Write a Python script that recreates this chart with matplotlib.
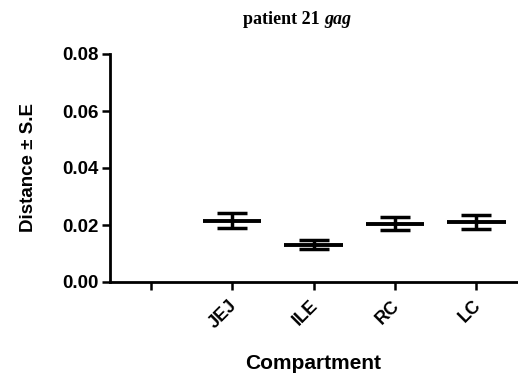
import matplotlib.pyplot as plt
import matplotlib.transforms as mtransforms
import numpy as np

plt.rcParams['font.family'] = ['Liberation Sans', 'DejaVu Sans']

# Data
compartments = ['', 'JEJ', 'ILE', 'RC', 'LC']
means = [np.nan, 0.0215, 0.0131, 0.0205, 0.0210]
se = [np.nan, 0.0027, 0.0016, 0.0022, 0.0025]
y_ticks = [0.00, 0.02, 0.04, 0.06, 0.08]

fig = plt.figure(figsize=(5.18, 3.79), dpi=100)
ax = fig.add_axes([110 / 518, 1 - 282 / 379, 407 / 518, 228 / 379])

x = np.arange(len(compartments))
ax.hlines(means, x - 0.36, x + 0.36, colors='black', linewidth=2.8)
ax.errorbar(x, means, yerr=se, fmt='none', ecolor='black', elinewidth=2.5,
            capsize=10.8, capthick=2.5)

ax.set_xlim(-0.5, 4.5)
ax.set_ylim(0, 0.08)
ax.set_yticks(y_ticks)
ax.set_yticklabels([f'{v:.2f}' for v in y_ticks], fontsize=13.5, fontweight='bold')
ax.set_xticks(x)
ax.set_xticklabels(compartments, fontsize=13, fontweight='bold',
                   rotation=45, ha='right', rotation_mode='anchor')
ax.tick_params(axis='both', direction='out', length=6, width=1.8, pad=2)
ax.tick_params(axis='x', pad=5)

# nudge rotated labels a bit to the left
shift = mtransforms.ScaledTranslation(-4 / 100, 0, fig.dpi_scale_trans)
for lbl in ax.get_xticklabels():
    lbl.set_transform(lbl.get_transform() + shift)

for s in ['top', 'right']:
    ax.spines[s].set_visible(False)
for s in ['left', 'bottom']:
    ax.spines[s].set_linewidth(2)

ax.set_ylabel('Distance ± S.E', fontsize=13.5, fontweight='bold', labelpad=18)
ax.set_xlabel('Compartment', fontsize=15, fontweight='bold', labelpad=16)

fig.text(324 / 518, 1 - 19 / 379, 'patient 21 ', ha='right', va='center',
         fontsize=13, fontweight='bold', family='Liberation Serif')
fig.text(324 / 518, 1 - 19 / 379, 'gag', ha='left', va='center',
         fontsize=13, fontweight='bold', style='italic', family='Liberation Serif')

fig.savefig('out.png', dpi=100)
